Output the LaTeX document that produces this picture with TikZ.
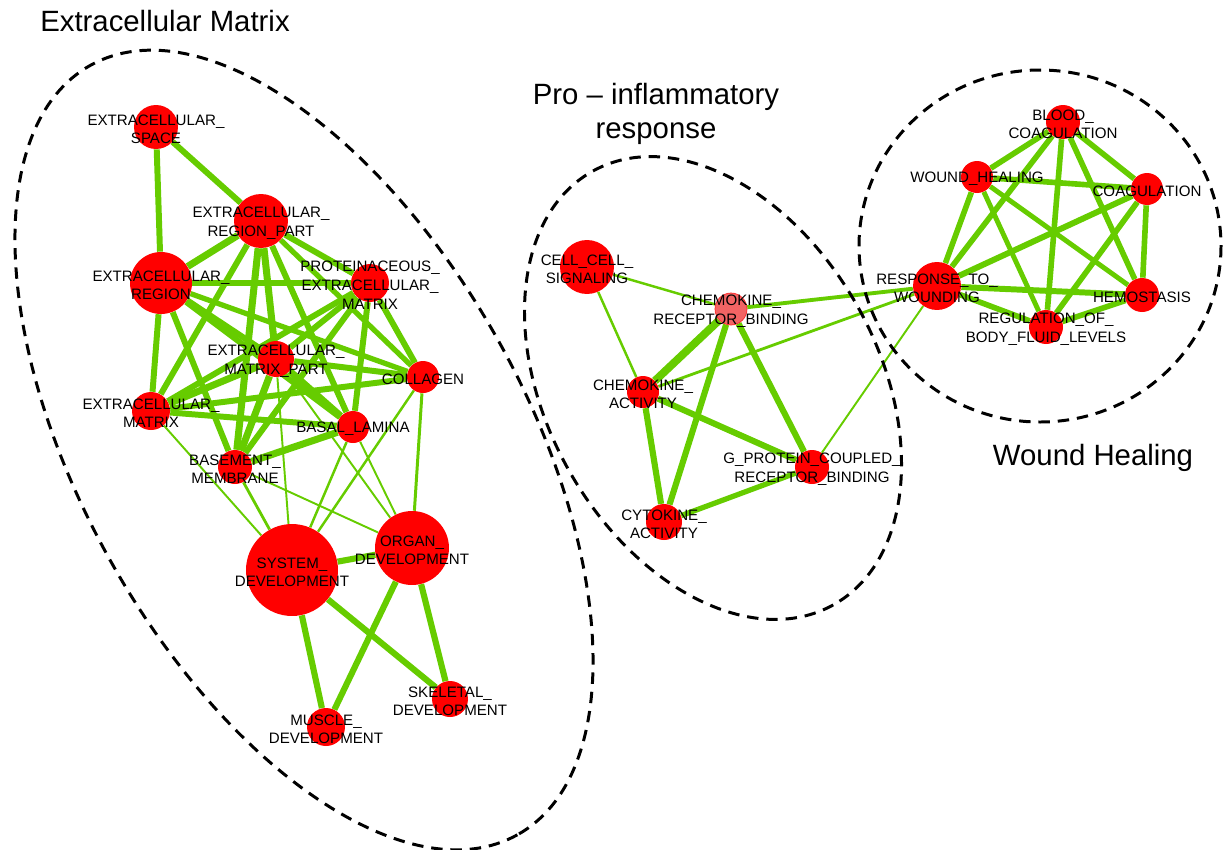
\documentclass[tikz,border=0pt]{standalone}
\usepackage{fontspec}
\setmainfont{Liberation Sans}
\usetikzlibrary{backgrounds}

\definecolor{gored}{RGB}{255,0,0}
\definecolor{golight}{RGB}{242,100,100}
\definecolor{gogreen}{RGB}{102,204,0}

\begin{document}
\begin{tikzpicture}[x=0.02cm, y=-0.02cm,
    term/.style={circle, fill=gored, inner sep=0pt, minimum size=#1*0.04cm},
    tag/.style={font=\fontsize{8.6}{10.6}\selectfont, align=center, inner sep=0pt, yshift=-1.2pt},
    link/.style={draw=gogreen, line width=#1},
    group/.style={draw=black, line width=1.7pt, dash pattern=on 6.5pt off 4.5pt},
    title/.style={font=\fontsize{16.7}{19.3}\selectfont, align=center}]

	\useasboundingbox (0,0) rectangle (1230,849);

	% extracellular matrix terms
	\node[term=22, label={[tag]center:EXTRACELLULAR\_\\SPACE}] (es) at (156,127) {};
	\node[term=27, label={[tag]center:EXTRACELLULAR\_\\REGION\_PART}] (erp) at (261,221) {};
	\node[term=31, label={[tag]center:EXTRACELLULAR\_\\REGION}] (er) at (161,283) {};
	\node[term=19, label={[tag]center:PROTEINACEOUS\_\\EXTRACELLULAR\_\\MATRIX}] (pem) at (370,283) {};
	\node[term=18, label={[tag]center:EXTRACELLULAR\_\\MATRIX\_PART}] (emp) at (276,359) {};
	\node[term=16, label={[tag]center:COLLAGEN}] (col) at (423,377) {};
	\node[term=19, label={[tag]center:EXTRACELLULAR\_\\MATRIX}] (em) at (151,411) {};
	\node[term=16, label={[tag]center:BASAL\_LAMINA}] (bl) at (353,427) {};
	\node[term=17, label={[tag]center:BASEMENT\_\\MEMBRANE}] (bm) at (235,467) {};
	\node[term=46, label={[tag]center:SYSTEM\_\\DEVELOPMENT}] (sd) at (292,570) {};
	\node[term=37, label={[tag]center:ORGAN\_\\DEVELOPMENT}] (od) at (412,548) {};
	\node[term=18, label={[tag]center:SKELETAL\_\\DEVELOPMENT}] (sk) at (450,699) {};
	\node[term=19, label={[tag]center:MUSCLE\_\\DEVELOPMENT}] (md) at (326,727) {};

	% pro-inflammatory terms
	\node[term=27, label={[tag]center:CELL\_CELL\_\\SIGNALING}] (cc) at (587,267) {};
	\node[term=16, fill=golight, draw=gored!85, label={[tag]center:CHEMOKINE\_\\RECEPTOR\_BINDING}] (crb) at (731,309) {};
	\node[term=16, label={[tag]center:CHEMOKINE\_\\ACTIVITY}] (ca) at (643,392) {};
	\node[term=17, label={[tag]center:G\_PROTEIN\_COUPLED\_\\RECEPTOR\_BINDING}] (gp) at (812,467) {};
	\node[term=18, label={[tag]center:CYTOKINE\_\\ACTIVITY}] (ck) at (664,522) {};

	% wound healing terms
	\node[term=17, label={[tag]center:BLOOD\_\\COAGULATION}] (bc) at (1063,122) {};
	\node[term=16, label={[tag]center:WOUND\_HEALING}] (wh) at (977,177) {};
	\node[term=16, label={[tag]center:COAGULATION}] (coag) at (1147,189) {};
	\node[term=24, label={[tag]center:RESPONSE\_TO\_\\WOUNDING}] (rw) at (937,286) {};
	\node[term=17, label={[tag]center:HEMOSTASIS}] (hem) at (1142,295) {};
	\node[term=17, label={[tag]center:REGULATION\_OF\_\\BODY\_FLUID\_LEVELS}] (reg) at (1046,327) {};

	\begin{pgfonlayer}{background}
		% extracellular matrix edges
		\draw[link=3.4pt] (es) -- (er);
		\draw[link=3.4pt] (es) -- (erp);
		\draw[link=4pt] (er) -- (erp);
		\draw[link=3.4pt] (er) -- (pem);
		\draw[link=3.4pt] (er) -- (emp);
		\draw[link=3pt] (er) -- (col);
		\draw[link=3.4pt] (er) -- (em);
		\draw[link=3.4pt] (er) -- (bl);
		\draw[link=3.4pt] (er) -- (bm);
		\draw[link=3.4pt] (erp) -- (pem);
		\draw[link=4pt] (erp) -- (emp);
		\draw[link=3pt] (erp) -- (col);
		\draw[link=3.4pt] (erp) -- (em);
		\draw[link=3.4pt] (erp) -- (bl);
		\draw[link=4pt] (erp) -- (bm);
		\draw[link=3.4pt] (pem) -- (emp);
		\draw[link=3.4pt] (pem) -- (col);
		\draw[link=3.4pt] (pem) -- (em);
		\draw[link=3.4pt] (pem) -- (bl);
		\draw[link=3.4pt] (pem) -- (bm);
		\draw[link=3.4pt] (emp) -- (col);
		\draw[link=4pt] (emp) -- (em);
		\draw[link=4pt] (emp) -- (bl);
		\draw[link=4pt] (emp) -- (bm);
		\draw[link=3.4pt] (col) -- (em);
		\draw[link=3.4pt] (em) -- (bl);
		\draw[link=4pt] (bl) -- (bm);

		% weak links down to development
		\draw[link=1.1pt] (em) -- (sd);
		\draw[link=1.6pt] (bm) -- (sd);
		\draw[link=1.1pt] (bm) -- (od);
		\draw[link=1.1pt] (emp) -- (sd);
		\draw[link=1.1pt] (emp) -- (od);
		\draw[link=1.4pt] (bl) -- (sd);
		\draw[link=1.1pt] (bl) -- (od);
		\draw[link=1.4pt] (col) -- (sd);
		\draw[link=1.7pt] (col) -- (od);

		% development edges
		\draw[link=3.5pt] (sd) -- (od);
		\draw[link=3.5pt] (sd) -- (md);
		\draw[link=3.5pt] (sd) -- (sk);
		\draw[link=3.5pt] (od) -- (md);
		\draw[link=3.5pt] (od) -- (sk);

		% pro-inflammatory edges
		\draw[link=1.4pt] (cc) -- (crb);
		\draw[link=1.4pt] (cc) -- (ca);
		\draw[link=4.5pt] (crb) -- (ca);
		\draw[link=3.5pt] (crb) -- (ck);
		\draw[link=3.5pt] (crb) -- (gp);
		\draw[link=3.5pt] (ca) -- (gp);
		\draw[link=3.5pt] (ca) -- (ck);
		\draw[link=3pt] (ck) -- (gp);
		\draw[link=2.2pt] (crb) -- (rw);
		\draw[link=1.6pt] (ca) -- (rw);
		\draw[link=1.1pt] (gp) -- (rw);

		% wound healing edges
		\draw[link=3.2pt] (bc) -- (wh);
		\draw[link=3.2pt] (bc) -- (coag);
		\draw[link=3.2pt] (bc) -- (rw);
		\draw[link=3.2pt] (bc) -- (hem);
		\draw[link=3.2pt] (bc) -- (reg);
		\draw[link=3.2pt] (wh) -- (coag);
		\draw[link=3.2pt] (wh) -- (rw);
		\draw[link=2.8pt] (wh) -- (hem);
		\draw[link=2.8pt] (wh) -- (reg);
		\draw[link=3.4pt] (coag) -- (rw);
		\draw[link=3.2pt] (coag) -- (hem);
		\draw[link=3.2pt] (coag) -- (reg);
		\draw[link=3.4pt] (rw) -- (hem);
		\draw[link=3.2pt] (rw) -- (reg);
		\draw[link=3.2pt] (reg) -- (hem);
	\end{pgfonlayer}

	% dashed groups
	\draw[group, rotate around={-61:(304,450)}] (304,450) ellipse [x radius=440, y radius=223];
	\draw[group, rotate around={-61:(713,388)}] (713,388) ellipse [x radius=248, y radius=166];
	\draw[group] (1040,246) ellipse [x radius=181, y radius=176];

	% titles
	\node[title] (t-ecm) at (165,21) {Extracellular Matrix};
	\node[title] (t-pro) at (656,114) {Pro -- inflammatory\\response};
	\node[title] (t-wh) at (1093,458) {Wound Healing};

\end{tikzpicture}
\end{document}
